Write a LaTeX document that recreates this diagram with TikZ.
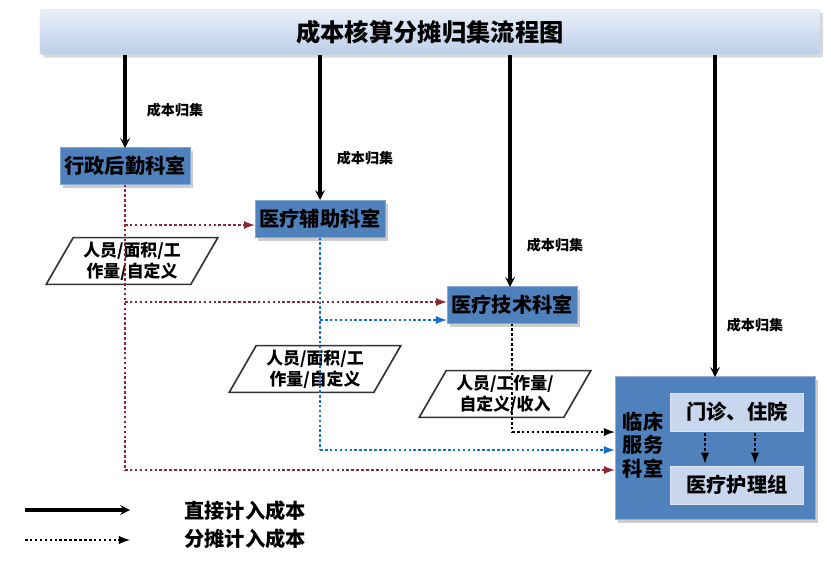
\documentclass[tikz,border=0pt]{standalone}
\usepackage{fontspec}
\setmainfont{Noto Sans CJK SC}
\usetikzlibrary{shapes.geometric}
\usetikzlibrary{calc}
\usetikzlibrary{shadows}
\definecolor{boxblue}{RGB}{79,129,189}
\definecolor{paleblue}{RGB}{200,215,238}
\definecolor{reddot}{RGB}{140,40,50}
\definecolor{bluedot}{RGB}{20,110,210}

\begin{document}
\begin{tikzpicture}[x=0.3mm, y=-0.3mm, font=\bfseries]
        % ================= 样式定义 =================
        \tikzset{
            dept/.style={rectangle, draw=boxblue!70!white, fill=boxblue, minimum width=39mm, minimum height=11mm, font=\bfseries\LARGE, drop shadow={opacity=0.4}},
            para/.style={trapezium, trapezium left angle=60, trapezium right angle=120, draw=black!80, line width=1.4pt, fill=white, minimum width=40mm, minimum height=14mm, align=center, inner sep=0pt, font=\bfseries\Large},
            sub/.style={rectangle, draw=white!80!boxblue, fill=paleblue, minimum width=40mm, minimum height=11.5mm, font=\bfseries\LARGE},
            direct/.style={->, >=stealth, line width=2.6pt, black},
            share/.style={->, >=latex, line width=2.2pt, dotted}
        }
        \useasboundingbox (0,0) rectangle (831,564);

        % ================= 标题 =================
        \node[rectangle, rounded corners=2pt, draw=paleblue, top color=white!60!paleblue, bottom color=paleblue!90!boxblue, minimum width=234mm, minimum height=13.5mm, font=\bfseries\huge, drop shadow={opacity=0.3}] (title) at (430,32) {成本核算分摊归集流程图};

        % ================= 科室 =================
        \node[dept] (admin) at (125,166) {行政后勤科室};
        \node[dept] (aux) at (320,219) {医疗辅助科室};
        \node[dept] (tech) at (512,305) {医疗技术科室};

        \node[rectangle, draw=boxblue!60!white, fill=boxblue, minimum width=60mm, minimum height=43mm, drop shadow={opacity=0.4}] (clin) at (715,448) {};
        \node[align=center, font=\bfseries\LARGE, inner sep=0pt] (clinlab) at (643,445) {临床\\[-2pt]服务\\[-2pt]科室};
        \node[sub] (opd) at (737,412) {门诊、住院};
        \node[sub] (care) at (737,485) {医疗护理组};

        \node[para] (p1) at (132,261) {人员/面积/工\\作量/自定义};
        \node[para] (p2) at (315,369) {人员/面积/工\\作量/自定义};
        \node[para] (p3) at (505,394) {人员/工作量/\\自定义/收入};

        % ================= 成本归集 =================
        \foreach \xx/\yy/\tgt/\lx/\ly in {125/148/admin/175/110, 320/200/aux/365/158, 510/287/tech/555/245, 715/377/clin/755/325} {
            \coordinate (top\tgt) at (\xx,55);
            \draw[direct] (top\tgt) -- (\xx,\yy);
            \node[font=\bfseries\large] (lab\tgt) at (\lx,\ly) {成本归集};
        }

        % ================= 分摊 =================
        \coordinate (r1) at (125,225);
        \coordinate (r2) at (125,302);
        \coordinate (r3) at (125,470);
        \draw[reddot, line width=2.2pt, dotted] (admin.south) -- (r3);
        \draw[share, reddot] (r1) -- (aux.west |- r1);
        \draw[share, reddot] (r2) -- (tech.west |- r2);
        \draw[share, reddot] (r3) -- (clin.west |- r3);

        \coordinate (b1) at (320,320);
        \coordinate (b2) at (320,450);
        \draw[bluedot, line width=2.2pt, dotted] (aux.south) -- (b2);
        \draw[share, bluedot] (b1) -- (tech.west |- b1);
        \draw[share, bluedot] (b2) -- (clin.west |- b2);

        \coordinate (k1) at (512,432);
        \draw[black, line width=2.2pt, dotted] (tech.south) -- (k1);
        \draw[share, black] (k1) -- (clin.west |- k1);

        \draw[share, black] ($(opd.south)+(-32,2)$) -- ($(care.north)+(-32,-2)$);
        \draw[share, black] ($(opd.south)+(18,2)$) -- ($(care.north)+(18,-2)$);

        % ================= 图例 =================
        \coordinate (l1) at (25,510);
        \coordinate (l2) at (25,540);
        \draw[direct] (l1) -- ++(105,0);
        \draw[share, black] (l2) -- ++(105,0);
        \node[font=\bfseries\LARGE] (leg1) at (245,511) {直接计入成本};
        \node[font=\bfseries\LARGE] (leg2) at (245,539) {分摊计入成本};
\end{tikzpicture}
\end{document}
